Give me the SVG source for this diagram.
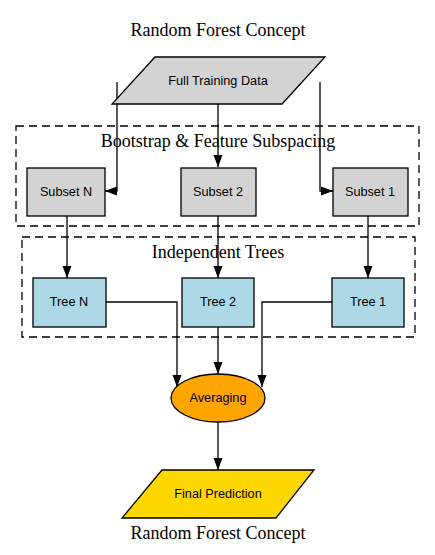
<svg xmlns="http://www.w3.org/2000/svg" width="435" height="555" viewBox="0 0 435 555">
<style>
.title{font-family:"Liberation Serif",serif;font-size:18px;fill:#000;text-anchor:middle}
.lbl{font-family:"Liberation Sans",Arial,sans-serif;font-size:12.7px;fill:#000;text-anchor:middle;dominant-baseline:central}
.cluster{fill:none;stroke:#000;stroke-width:1.3;stroke-dasharray:8,5}
.box{stroke:#000;stroke-width:1.3}
.gray{fill:#d3d3d3}
.blue{fill:#add8e6}
.edge{fill:none;stroke:#000;stroke-width:1.3}
</style>
<defs>
<marker id="arr" markerWidth="12" markerHeight="10" refX="12" refY="5" orient="auto" markerUnits="userSpaceOnUse">
<path d="M0,0.5 L12,5 L0,9.5 Z" fill="#000"/>
</marker>
</defs>
<rect width="435" height="555" fill="#fff"/>
<text class="title" x="218" y="36">Random Forest Concept</text>
<text class="title" x="218" y="539">Random Forest Concept</text>

<g id="cluster_bootstrap">
<rect class="cluster" x="16" y="126" width="403" height="100"/>
<text class="title" x="218" y="147">Bootstrap &amp; Feature Subspacing</text>
</g>
<g id="cluster_trees">
<rect class="cluster" x="22" y="237" width="393" height="100"/>
<text class="title" x="218" y="258">Independent Trees</text>
</g>

<g id="edges">
<path class="edge" d="M117,82 V191 H105" marker-end="url(#arr)"/>
<path class="edge" d="M218,104 V167" marker-end="url(#arr)"/>
<path class="edge" d="M320,82 V191 H333" marker-end="url(#arr)"/>
<path class="edge" d="M67,216 V278" marker-end="url(#arr)"/>
<path class="edge" d="M218,216 V278" marker-end="url(#arr)"/>
<path class="edge" d="M368,216 V278" marker-end="url(#arr)"/>
<path class="edge" d="M106,302 H177 V387" marker-end="url(#arr)"/>
<path class="edge" d="M218,327 V374" marker-end="url(#arr)"/>
<path class="edge" d="M332,302 H262 V387" marker-end="url(#arr)"/>
<path class="edge" d="M218,422 V470" marker-end="url(#arr)"/>
</g>

<g id="full_data">
<polygon class="box gray" points="155,57 325,57 282,104 112,104"/>
<text class="lbl" x="218" y="81">Full Training Data</text>
</g>
<g id="subset_n">
<rect class="box gray" x="27" y="168" width="78" height="48"/>
<text class="lbl" x="66" y="192">Subset N</text>
</g>
<g id="subset_2">
<rect class="box gray" x="181" y="168" width="75" height="48"/>
<text class="lbl" x="218" y="192">Subset 2</text>
</g>
<g id="subset_1">
<rect class="box gray" x="333" y="168" width="75" height="48"/>
<text class="lbl" x="370" y="192">Subset 1</text>
</g>
<g id="tree_n">
<rect class="box blue" x="33" y="278" width="73" height="49"/>
<text class="lbl" x="69" y="302">Tree N</text>
</g>
<g id="tree_2">
<rect class="box blue" x="182" y="278" width="72" height="49"/>
<text class="lbl" x="218" y="302">Tree 2</text>
</g>
<g id="tree_1">
<rect class="box blue" x="332" y="278" width="72" height="49"/>
<text class="lbl" x="368" y="302">Tree 1</text>
</g>
<g id="averaging">
<ellipse class="box" fill="#ffa500" cx="218" cy="398" rx="47" ry="24"/>
<text class="lbl" x="218" y="398">Averaging</text>
</g>
<g id="final_prediction">
<polygon class="box" fill="#ffd700" points="162,470 314,470 276,518 122,518"/>
<text class="lbl" x="218" y="494">Final Prediction</text>
</g>
</svg>
